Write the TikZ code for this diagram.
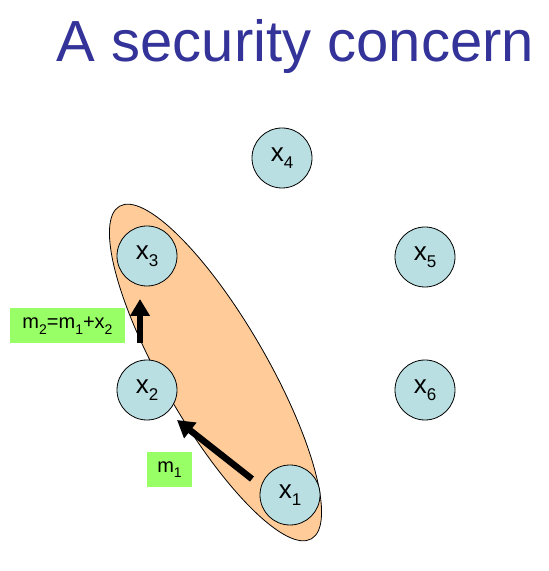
\documentclass[tikz,border=0pt]{standalone}
\usepackage{fontspec}
\setmainfont{Liberation Sans}
\usetikzlibrary{arrows.meta}
\definecolor{titleblue}{HTML}{333399}
\definecolor{peach}{HTML}{FFCC99}
\definecolor{nodeblue}{HTML}{B9DFE3}
\definecolor{labgreen}{HTML}{99FF66}
\newcommand{\lsub}[1]{\raisebox{-0.28em}{\fontsize{17}{17}\selectfont #1}}
\newcommand{\msub}[1]{\raisebox{-0.28em}{\fontsize{14}{14}\selectfont #1}}
\begin{document}
\begin{tikzpicture}[x=1pt,y=1pt,
  party/.style={circle,draw=black,line width=0.8pt,fill=nodeblue,minimum size=60pt,inner sep=0pt,font=\fontsize{26}{26}\selectfont},
  msglabel/.style={fill=labgreen,inner sep=0pt,minimum height=35pt,font=\fontsize{20}{20}\selectfont},
  msgarrow/.style={line width=6.5pt,-{Triangle[width=19pt,length=17pt]}}]
\useasboundingbox (0,0) rectangle (549,571);
\node[anchor=base,text=titleblue,font=\fontsize{58}{58}\selectfont] (title) at (295.5,509) {A security concern};
\draw[black,line width=0.8pt,fill=peach,rotate around={-60:(215.5,198.5)}] (215.5,198.5) ellipse [x radius=192, y radius=52];
\node[party] (x4) at (282,413) {x\lsub{4}};
\node[party] (x3) at (147,315) {x\lsub{3}};
\node[party] (x5) at (425,314) {x\lsub{5}};
\node[party] (x2) at (147,181) {x\lsub{2}};
\node[party] (x6) at (425,181) {x\lsub{6}};
\node[party] (x1) at (290,76) {x\lsub{1}};
\node[msglabel,minimum width=115pt] (l2) at (67.5,245.5) {m\msub{2}=m\msub{1}+x\msub{2}};
\node[msglabel,minimum width=45pt] (l1) at (169.5,101.5) {m\msub{1}};
\coordinate (a1s) at (252,92);
\coordinate (a1e) at (177,151);
\coordinate (a2s) at (140,228);
\coordinate (a2e) at (140,272);
\draw[msgarrow] (a1s) -- (a1e);
\draw[msgarrow] (a2s) -- (a2e);
\end{tikzpicture}
\end{document}
